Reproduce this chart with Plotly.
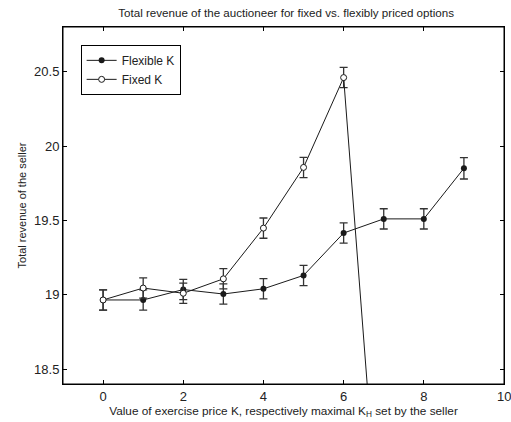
import plotly.graph_objects as go

k_flex = [0, 1, 2, 3, 4, 5, 6, 7, 8, 9]
rev_flex = [18.965, 18.965, 19.035, 19.005, 19.04, 19.13, 19.415, 19.51, 19.51, 19.85]
err_flex = [0.068, 0.068, 0.068, 0.068, 0.068, 0.068, 0.068, 0.068, 0.068, 0.072]

k_fixed = [0, 1, 2, 3, 4, 5, 6, 7]
rev_fixed = [18.965, 19.045, 19.01, 19.107, 19.448, 19.856, 20.46, 16.95]
err_fixed = [0.068, 0.068, 0.068, 0.068, 0.068, 0.068, 0.068, 0.068]

title = "Total revenue of the auctioneer for fixed vs. flexibly priced options"
xlabel = "Value of exercise price K, respectively maximal K<sub>H</sub> set by the seller"
ylabel = "Total revenue of the seller"
xticks = [0, 2, 4, 6, 8, 10]
yticks = [18.5, 19, 19.5, 20, 20.5]

font = "Liberation Sans, Arial, sans-serif"

fig = go.Figure()
fig.add_trace(go.Scatter(
    x=k_flex, y=rev_flex, name="Flexible K", mode="lines+markers",
    line=dict(color="#1a1a1a", width=1),
    marker=dict(symbol="circle", size=6, color="#1a1a1a"),
    error_y=dict(type="data", array=err_flex, color="#333333", thickness=1.3, width=4),
))
fig.add_trace(go.Scatter(
    x=k_fixed, y=rev_fixed, name="Fixed K", mode="lines+markers",
    line=dict(color="#1a1a1a", width=1),
    marker=dict(symbol="circle", size=6, color="white", line=dict(color="#1a1a1a", width=1)),
    error_y=dict(type="data", array=err_fixed, color="#333333", thickness=1.3, width=4),
))

axis_common = dict(
    showline=True, linecolor="black", linewidth=1, mirror="ticks",
    ticks="inside", ticklen=4, tickcolor="black", tickwidth=1, showgrid=False, zeroline=False,
    automargin=False,
    tickfont=dict(family=font, size=13, color="#222222"),
)

fig.update_layout(
    width=511, height=422,
    margin=dict(l=63, r=7, t=27, b=38, autoexpand=False),
    paper_bgcolor="white", plot_bgcolor="white",
    font=dict(family=font, color="#222222"),
    title=dict(text=title, x=0.506, xanchor="center", xref="paper", yref="container",
               y=0.97, yanchor="middle",
               font=dict(family=font, size=11.6, color="#222222")),
    xaxis=dict(range=[-1, 10], tickvals=xticks,
               title=dict(text=xlabel, font=dict(family=font, size=11.8, color="#222222"), standoff=1),
               **axis_common),
    yaxis=dict(range=[18.4, 20.8], tickvals=yticks, ticktext=[str(v) for v in yticks],
               title=dict(text=ylabel, font=dict(family=font, size=11, color="#222222"), standoff=5),
               **axis_common),
    legend=dict(x=0.04, y=0.95, xanchor="left", yanchor="top",
                bordercolor="black", borderwidth=1, bgcolor="white",
                font=dict(family=font, size=12, color="#222222"),
                tracegroupgap=0),
    showlegend=True,
)
fig.add_shape(type="rect", xref="paper", yref="paper", x0=0, y0=0, x1=1, y1=1,
              line=dict(color="black", width=1), layer="above")
# right-most tick label, which plotly drops because it overflows the page edge
fig.add_annotation(x=xticks[-1], xref="x", y=0, yref="paper", text=str(xticks[-1]),
                   showarrow=False, yanchor="top", yshift=-3, xanchor="center",
                   font=dict(family=font, size=13, color="#222222"))

fig.write_html("out.html", config={"displayModeBar": False},
               post_script="document.body.style.margin='0';document.body.style.padding='0';")
